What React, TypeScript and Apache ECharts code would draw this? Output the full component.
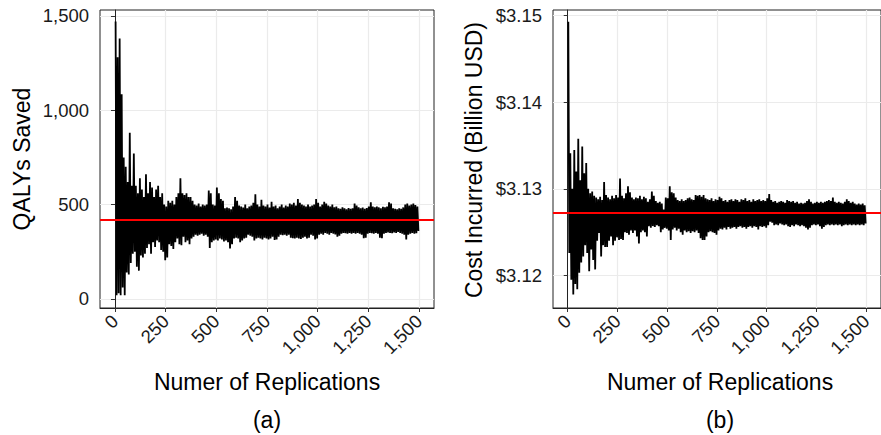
import React, { useEffect, useRef } from "react";
import * as echarts from "echarts";

const FONT = '"Liberation Sans", Arial, Helvetica, sans-serif';
const REP_STEP = 10;

const xTicks = [0, 250, 500, 750, 1000, 1250, 1500];
const qalyTicks = [0, 500, 1000, 1500];
const costTicks = [3.12, 3.13, 3.14, 3.15];

const qalyMean = 418;
const costMean = 3.1272;

// QALYs saved: upper / lower extremes of each block of 10 replications
const qalyHi = [
  1470, 1280, 1380, 1085, 750, 700, 620, 880, 600, 770,
  600, 560, 640, 580, 540, 660, 560, 620, 590, 540,
  580, 600, 540, 560, 500, 490, 520, 510, 520, 500,
  540, 560, 640, 560, 550, 560, 540, 540, 520, 500,
  495, 505, 490, 500, 495, 500, 575, 560, 500, 495,
  590, 560, 530, 520, 480, 485, 480, 475, 490, 540,
  520, 495, 490, 485, 500, 480, 490, 495, 510, 555,
  500, 490, 525, 495, 490, 500, 485, 515, 490, 495,
  480, 490, 500, 485, 495, 490, 505, 500, 510, 495,
  530, 510, 500, 495, 490, 500, 490, 495, 500, 530,
  510, 490, 500, 515, 505, 495, 490, 500, 485, 490,
  480, 478, 485, 480, 475, 482, 478, 480, 505, 495,
  485, 480, 485, 478, 482, 490, 512, 490, 485, 490,
  485, 480, 488, 485, 490, 512, 505, 480, 478, 475,
  480, 478, 485, 500, 505, 495, 500, 505, 498, 490,
];
const qalyLo = [
  20, 30, 20, 60, 20, 140, 130, 190, 240, 250,
  170, 150, 230, 220, 240, 270, 290, 240, 300, 275,
  310, 300, 260, 250, 205, 220, 290, 280, 265, 300,
  320, 290, 285, 330, 300, 310, 290, 320, 330, 340,
  335, 340, 345, 335, 340, 330, 270, 300, 310, 315,
  310, 320, 315, 305, 310, 300, 268, 290, 320, 325,
  320, 300, 310, 320, 325, 340, 335, 330, 310, 320,
  325, 320, 315, 325, 320, 315, 320, 330, 312, 315,
  330, 340, 338, 340, 335, 340, 325, 322, 320, 325,
  320, 318, 325, 330, 320, 325, 340, 335, 315, 320,
  340, 345, 340, 350, 345, 340, 350, 345, 342, 330,
  335, 345, 350, 348, 345, 350, 345, 350, 345, 350,
  345, 340, 322, 325, 345, 350, 348, 345, 350, 345,
  325, 322, 345, 350, 352, 350, 348, 352, 350, 355,
  350, 345, 340, 315, 340, 345, 350, 345, 348, 360,
];

// Cost incurred (billion USD): upper / lower extremes of each block of 10 replications
const costHi = [
  3.1493, 3.1341, 3.1300, 3.1345, 3.1320, 3.1358, 3.1310, 3.1349, 3.1318, 3.1330,
  3.1300, 3.1295, 3.1297, 3.1292, 3.1290, 3.1288, 3.1291, 3.1287, 3.1308, 3.1293,
  3.1290, 3.1288, 3.1292, 3.1289, 3.1293, 3.1290, 3.1312, 3.1292, 3.1289, 3.1295,
  3.1303, 3.1296, 3.1290, 3.1288, 3.1290, 3.1289, 3.1292, 3.1288, 3.1291, 3.1289,
  3.1285, 3.1288, 3.1297, 3.1292, 3.1286, 3.1284, 3.1285, 3.1283, 3.1276, 3.1290,
  3.1289, 3.1303, 3.1296, 3.1295, 3.1290, 3.1287, 3.1286, 3.1288, 3.1286, 3.1287,
  3.1289, 3.1290, 3.1288, 3.1287, 3.1293, 3.1292, 3.1293, 3.1291, 3.1293, 3.1289,
  3.1288, 3.1287, 3.1289, 3.1286, 3.1288, 3.1287, 3.1291, 3.1289, 3.1286, 3.1287,
  3.1285, 3.1287, 3.1288, 3.1286, 3.1288, 3.1287, 3.1285, 3.1288, 3.1287, 3.1289,
  3.1286, 3.1287, 3.1285, 3.1288, 3.1286, 3.1287, 3.1288, 3.1286, 3.1287, 3.1286,
  3.1289, 3.1294, 3.1287, 3.1285, 3.1286, 3.1284, 3.1285, 3.1286, 3.1285, 3.1284,
  3.1287, 3.1286, 3.1285, 3.1286, 3.1284, 3.1285, 3.1283, 3.1284, 3.1283, 3.1284,
  3.1286, 3.1288, 3.1285, 3.1283, 3.1284, 3.1285, 3.1284, 3.1285, 3.1284, 3.1285,
  3.1286, 3.1287, 3.1286, 3.1290, 3.1285, 3.1284, 3.1285, 3.1284, 3.1283, 3.1285,
  3.1288, 3.1286, 3.1284, 3.1285, 3.1283, 3.1282, 3.1283, 3.1282, 3.1283, 3.1281,
];
const costLo = [
  3.1226, 3.1195, 3.1178, 3.1190, 3.1184, 3.1203, 3.1215, 3.1222, 3.1235, 3.1226,
  3.1205, 3.1230, 3.1218, 3.1207, 3.1240, 3.1249, 3.1222, 3.1235, 3.1233, 3.1233,
  3.1240, 3.1245, 3.1235, 3.1240, 3.1244, 3.1241, 3.1242, 3.1241, 3.1250, 3.1249,
  3.1247, 3.1252, 3.1249, 3.1252, 3.1245, 3.1237, 3.1250, 3.1252, 3.1250, 3.1245,
  3.1257, 3.1255, 3.1257, 3.1256, 3.1258, 3.1257, 3.1250, 3.1253, 3.1255, 3.1254,
  3.1252, 3.1241, 3.1253, 3.1255, 3.1252, 3.1254, 3.1250, 3.1247, 3.1252, 3.1250,
  3.1251, 3.1249, 3.1251, 3.1250, 3.1252, 3.1249, 3.1243, 3.1241, 3.1241, 3.1245,
  3.1250, 3.1251, 3.1250, 3.1249, 3.1247, 3.1252, 3.1254, 3.1253, 3.1255, 3.1253,
  3.1256, 3.1254, 3.1255, 3.1256, 3.1254, 3.1256, 3.1257, 3.1255, 3.1256, 3.1254,
  3.1256, 3.1257, 3.1255, 3.1257, 3.1256, 3.1253, 3.1257, 3.1256, 3.1257, 3.1255,
  3.1258, 3.1262, 3.1261, 3.1258, 3.1259, 3.1258, 3.1260, 3.1259, 3.1258, 3.1259,
  3.1257, 3.1256, 3.1258, 3.1257, 3.1259, 3.1258, 3.1257, 3.1258, 3.1257, 3.1255,
  3.1253, 3.1255, 3.1258, 3.1259, 3.1258, 3.1259, 3.1257, 3.1254, 3.1256, 3.1258,
  3.1259, 3.1258, 3.1259, 3.1258, 3.1259, 3.1258, 3.1259, 3.1257, 3.1258, 3.1259,
  3.1258, 3.1259, 3.1258, 3.1259, 3.1258, 3.1259, 3.1258, 3.1259, 3.1258, 3.1260,
];

const zigzag = (hi: number[], lo: number[]) =>
  hi.flatMap((h, i) => [
    [i * REP_STEP + 3, h],
    [i * REP_STEP + 8, lo[i]],
  ]);

const TICK_COLOR = "#1a1a1a";
const LINE_W = 1.8;

const makeX = (gridIndex: number) => ({
  type: "value",
  gridIndex,
  min: -74,
  max: 1575,
  axisLine: { show: true, onZero: false, lineStyle: { color: "#222", width: 1 } },
  axisTick: { show: true, customValues: xTicks, length: 4, lineStyle: { color: "#333" } },
  axisLabel: {
    customValues: xTicks,
    rotate: 45,
    margin: 10,
    fontSize: 18.5,
    fontFamily: FONT,
    color: TICK_COLOR,
    formatter: (v: number) => v.toLocaleString("en-US"),
  },
  splitLine: { show: true, lineStyle: { color: "#ebebeb", width: 1.2 } },
});

const markMean = (v: number) => ({
  silent: true,
  symbol: ["none", "none"],
  precision: 6,
  label: { show: false },
  lineStyle: { color: "#ff0000", width: 2.2, type: "solid" },
  data: [{ yAxis: v }],
});

export default function App() {
  const ref = useRef<HTMLDivElement>(null);
  useEffect(() => {
    if (!ref.current) return;
    const chart = echarts.init(ref.current, null, { renderer: "svg" });
    const gridBase = {
      top: 10,
      width: 334,
      height: 298,
      show: true,
      borderColor: "#222",
      borderWidth: 1,
      backgroundColor: "#fff",
    };
    const titleStyle = (text: string) => ({
      text,
      font: `23px ${FONT}`,
      fill: "#000",
      textAlign: "center",
      textVerticalAlign: "middle",
    });
    chart.setOption({
      animation: false,
      backgroundColor: "#fff",
      grid: [
        { ...gridBase, left: 100 },
        { ...gridBase, left: 553 },
      ],
      xAxis: [makeX(0), makeX(1)],
      yAxis: [
        {
          type: "value",
          gridIndex: 0,
          min: -48,
          max: 1531,
          axisLine: { show: true, lineStyle: { color: "#222" } },
          axisTick: { show: true, customValues: qalyTicks, length: 4, lineStyle: { color: "#333" } },
          axisLabel: {
            customValues: qalyTicks,
            margin: 11,
            fontSize: 18.5,
            fontFamily: FONT,
            color: TICK_COLOR,
            formatter: (v: number) => v.toLocaleString("en-US"),
          },
          splitLine: { show: true, lineStyle: { color: "#ebebeb", width: 1.2 } },
        },
        {
          type: "value",
          gridIndex: 1,
          min: 3.11624,
          max: 3.15066,
          axisLine: { show: true, lineStyle: { color: "#222" } },
          axisTick: { show: true, customValues: costTicks, length: 4, lineStyle: { color: "#333" } },
          axisLabel: {
            customValues: costTicks,
            margin: 11,
            fontSize: 18.5,
            fontFamily: FONT,
            color: TICK_COLOR,
            formatter: (v: number) => "$" + v.toFixed(2),
          },
          splitLine: { show: true, lineStyle: { color: "#ebebeb", width: 1.2 } },
        },
      ],
      series: [
        {
          type: "line",
          xAxisIndex: 0,
          yAxisIndex: 0,
          data: zigzag(qalyHi, qalyLo),
          showSymbol: false,
          lineStyle: { color: "#000", width: LINE_W },
          silent: true,
          markLine: markMean(qalyMean),
        },
        {
          type: "line",
          xAxisIndex: 1,
          yAxisIndex: 1,
          data: zigzag(costHi, costLo),
          showSymbol: false,
          lineStyle: { color: "#000", width: LINE_W },
          silent: true,
          markLine: markMean(costMean),
        },
      ],
      graphic: [
        { type: "text", x: 22, y: 159, rotation: Math.PI / 2, style: titleStyle("QALYs Saved") },
        { type: "text", x: 474, y: 160, rotation: Math.PI / 2, style: titleStyle("Cost Incurred (Billion USD)") },
        { type: "text", x: 267, y: 382, style: titleStyle("Numer of Replications") },
        { type: "text", x: 720, y: 382, style: titleStyle("Numer of Replications") },
        { type: "text", x: 267, y: 420, style: titleStyle("(a)") },
        { type: "text", x: 720, y: 420, style: titleStyle("(b)") },
      ],
    });
    return () => chart.dispose();
  }, []);
  return (
    <div
      ref={ref}
      style={{ position: "fixed", left: 0, top: 0, width: 881, height: 435, background: "#fff" }}
    />
  );
}
